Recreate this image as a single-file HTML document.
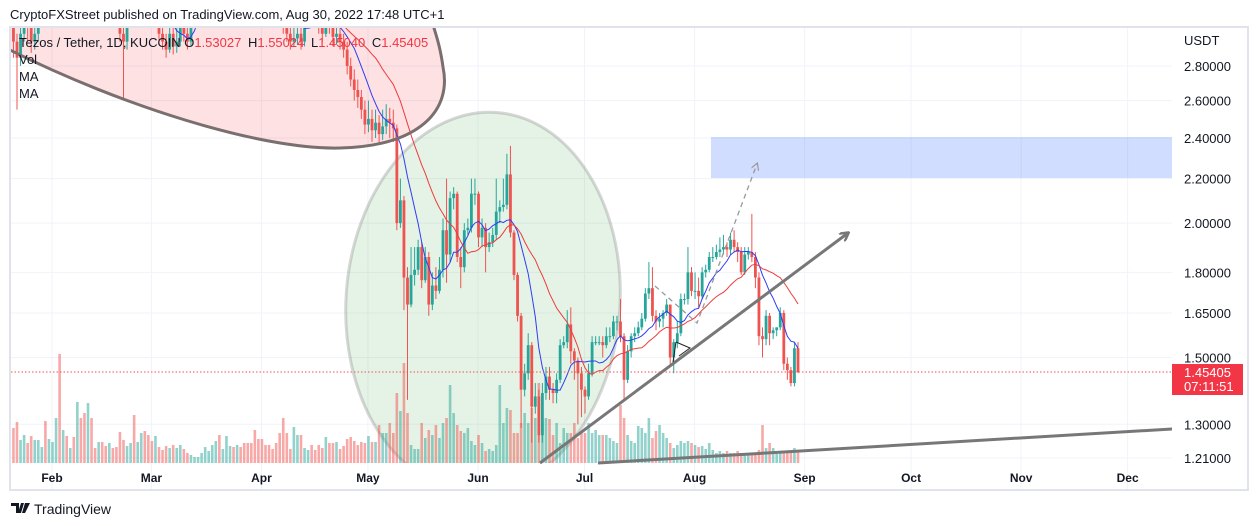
<!DOCTYPE html>
<html><head><meta charset="utf-8"><style>
html,body{margin:0;padding:0;background:#fff;width:1258px;height:526px;overflow:hidden}
svg text{font-family:"Liberation Sans",sans-serif}
</style></head><body>
<svg id="chart" width="1258" height="526" xmlns="http://www.w3.org/2000/svg">
<defs>
<clipPath id="plotClip"><rect x="11" y="28" width="1161" height="435"/></clipPath>
<clipPath id="fullClip"><rect x="11" y="28" width="1161" height="461"/></clipPath>
<marker id="arrowGray" markerWidth="10" markerHeight="10" refX="8" refY="5" orient="auto" markerUnits="userSpaceOnUse"><path d="M0,0 L9,5 L0,10" fill="none" stroke="#777" stroke-width="2.5"/></marker>
<marker id="arrowDash" markerWidth="8" markerHeight="8" refX="6" refY="4" orient="auto" markerUnits="userSpaceOnUse"><path d="M0,0 L7,4 L0,8" fill="none" stroke="#999" stroke-width="1.2"/></marker>
</defs>
<text x="10" y="19" font-size="13" fill="#131722">CryptoFXStreet published on TradingView.com, Aug 30, 2022 17:48 UTC+1</text>
<rect x="10" y="27" width="1238" height="463" fill="none" stroke="#e0e3eb" stroke-width="2"/>
<g id="grid"></g>
<g clip-path="url(#plotClip)">
  <path d="M 10,50 C 120,105 260,150 340,148 C 420,146 452,110 443,67 C 440,45 436,35 430,15 L 10,15 Z" fill="rgba(242,54,69,0.15)"/>
  <ellipse cx="483" cy="302" rx="137" ry="190" transform="rotate(4 483 302)" fill="rgba(76,175,80,0.15)" stroke="rgba(140,140,140,0.35)" stroke-width="3"/>
  <rect x="711" y="137" width="461" height="41" fill="rgba(41,98,255,0.22)"/>
</g>
<g id="vols" clip-path="url(#plotClip)"></g>
<g id="candles" clip-path="url(#plotClip)"></g>
<g id="mas" clip-path="url(#plotClip)"></g>
<g clip-path="url(#fullClip)">
  <path d="M 10,50 C 120,105 260,150 340,148 C 420,146 452,110 443,67 C 440,45 436,35 430,15" fill="none" stroke="#7a6e6e" stroke-width="3"/>
  <line x1="540" y1="463" x2="848" y2="233" stroke="#777" stroke-width="3" marker-end="url(#arrowGray)"/>
  <line x1="598" y1="463" x2="1172" y2="429" stroke="#777" stroke-width="3"/>
  <polyline points="655,286 697,323 757,164" fill="none" stroke="#999" stroke-width="1.3" stroke-dasharray="5,4" marker-end="url(#arrowDash)"/>
  <path d="M676,342 L690,348 L679,356 M676,342 L673,362" fill="none" stroke="#222" stroke-width="1"/>
</g>
<line id="priceLine" x1="11" x2="1172" stroke="#ef5350" stroke-width="1" stroke-dasharray="1.5,2"/>
<g id="axis"></g>
<text x="1184" y="45" font-size="13" fill="#131722">USDT</text>
<g id="xaxis"></g>
<g font-size="13">
  <text x="19" y="47" fill="#131722">Tezos / Tether, 1D, KUCOIN <tspan>O</tspan><tspan fill="#f23645">1.53027</tspan> <tspan dx="3">H</tspan><tspan fill="#f23645">1.55024</tspan> <tspan dx="3">L</tspan><tspan fill="#f23645">1.45040</tspan> <tspan dx="3">C</tspan><tspan fill="#f23645">1.45405</tspan></text>
  <text x="19" y="64" fill="#131722">Vol</text>
  <text x="19" y="81" fill="#131722">MA</text>
  <text x="19" y="98" fill="#131722">MA</text>
</g>
<g id="priceTag"></g>
<g>
  <path d="M11,503 h8 v10 h-3 v-7 h-5z M21,503 h3 l-3,10 h-3z M25,503 h5 l-5,10 h-3z" fill="#131722"/>
  <text x="34" y="514" font-size="14" fill="#131722">TradingView</text>
</g>
</svg>
<script>
const closes=[2.95,2.85,3.0,3.1,3.05,2.95,3.0,3.2,3.3,3.25,
3.4,3.6,3.8,3.7,4.0,3.9,4.2,4.1,4.3,4.0,
3.9,4.1,3.8,3.6,3.7,3.5,3.3,3.4,3.2,3.1,
3.0,2.95,3.1,3.3,3.2,3.4,3.5,3.3,3.2,3.1,
3.15,3.0,2.95,2.9,3.0,2.92,2.95,3.05,3.0,2.95,
3.1,3.3,3.5,3.6,3.8,3.9,4.1,4.3,4.2,4.4,
4.5,4.6,4.4,4.5,4.3,4.2,4.1,4.0,3.9,3.7,
3.6,3.5,3.4,3.3,3.2,3.1,3.05,3.0,2.95,2.97,
3.0,2.95,3.1,3.2,3.15,3.1,3.05,3.0,3.1,3.05,
2.98,3.0,2.95,2.9,2.8,2.72,2.66,2.62,2.55,2.47,
2.50,2.44,2.48,2.42,2.46,2.50,2.48,2.45,2.00,2.10,
1.78,1.68,1.79,1.81,1.90,1.77,1.86,1.68,1.75,1.73,
1.81,1.97,1.87,2.11,2.13,1.86,1.82,1.97,1.98,2.13,
2.13,1.94,1.98,1.90,1.92,1.95,2.05,2.07,2.08,2.22,
1.96,1.79,1.64,1.40,1.45,1.54,1.35,1.38,1.27,1.39,
1.44,1.40,1.39,1.43,1.54,1.55,1.61,1.52,1.49,1.45,
1.40,1.38,1.45,1.55,1.55,1.55,1.54,1.57,1.57,1.62,
1.62,1.57,1.43,1.52,1.57,1.58,1.60,1.63,1.72,1.74,
1.64,1.62,1.63,1.65,1.68,1.50,1.55,1.58,1.70,1.70,
1.80,1.73,1.73,1.71,1.80,1.81,1.86,1.86,1.88,1.89,
1.90,1.89,1.93,1.90,1.88,1.80,1.87,1.88,1.86,1.78,
1.57,1.56,1.64,1.58,1.59,1.60,1.65,1.48,1.46,1.42,
1.53,1.454];
const highs=[3.2,3.0,3.1,3.2,3.15,3.1,3.1,3.3,3.4,3.35,
3.5,3.7,3.9,3.85,4.1,4.05,4.3,4.25,4.4,4.3,
4.05,4.2,4.1,3.85,3.8,3.75,3.55,3.5,3.45,3.25,
3.15,3.1,3.2,3.4,3.35,3.5,3.6,3.55,3.35,3.25,
3.25,3.2,3.05,3.0,3.1,3.05,3.05,3.15,3.1,3.05,
3.2,3.4,3.6,3.7,3.9,4.0,4.2,4.4,4.4,4.5,
4.6,4.7,4.65,4.6,4.55,4.35,4.25,4.15,4.05,3.95,
3.75,3.65,3.55,3.45,3.35,3.25,3.15,3.1,3.05,3.05,
3.1,3.05,3.2,3.3,3.25,3.2,3.15,3.1,3.2,3.15,
3.1,3.1,3.05,3.0,2.95,2.85,2.78,2.72,2.66,2.6,
2.6,2.55,2.55,2.52,2.55,2.58,2.56,2.55,2.47,2.2,
2.12,1.82,1.9,1.9,1.93,1.92,1.9,1.88,1.8,1.82,
1.86,2.02,2.2,2.14,2.16,2.14,1.9,2.0,2.02,2.2,
2.2,2.14,2.02,2.0,1.96,1.98,2.2,2.1,2.2,2.32,
2.36,1.97,1.8,1.65,1.48,1.58,1.55,1.42,1.4,1.42,
1.47,1.47,1.42,1.45,1.56,1.57,1.66,1.67,1.53,1.5,
1.47,1.41,1.48,1.57,1.57,1.57,1.57,1.6,1.6,1.64,
1.64,1.7,1.58,1.54,1.58,1.6,1.62,1.65,1.74,1.84,
1.82,1.66,1.65,1.66,1.7,1.68,1.56,1.62,1.72,1.72,
1.9,1.82,1.8,1.78,1.82,1.83,1.88,1.9,1.91,1.94,
1.95,1.92,1.96,1.97,1.92,1.9,1.9,1.9,2.04,1.88,
1.8,1.6,1.66,1.65,1.6,1.6,1.67,1.66,1.5,1.47,
1.55,1.55];
const lows=[2.85,2.55,2.8,2.95,2.95,2.88,2.9,2.95,3.15,3.15,
3.2,3.35,3.55,3.6,3.65,3.8,3.85,4.0,4.05,3.95,
3.8,3.85,3.75,3.55,3.55,3.45,3.25,3.25,3.15,3.05,
2.95,2.6,2.9,3.05,3.15,3.15,3.35,3.25,3.15,3.05,
3.05,2.95,2.9,2.85,2.88,2.87,2.88,2.92,2.95,2.9,
2.92,3.05,3.25,3.45,3.55,3.75,3.85,4.05,4.1,4.15,
4.35,4.45,4.35,4.35,4.25,4.1,4.0,3.9,3.8,3.65,
3.55,3.45,3.35,3.25,3.15,3.05,3.0,2.95,2.9,2.92,
2.93,2.9,2.92,3.05,3.1,3.05,3.0,2.95,2.98,3.0,
2.92,2.93,2.9,2.85,2.75,2.68,2.6,2.56,2.5,2.42,
2.43,2.38,2.4,2.37,2.39,2.42,2.4,2.38,1.97,1.98,
1.66,1.37,1.67,1.75,1.79,1.74,1.76,1.64,1.66,1.7,
1.72,1.78,1.76,1.84,2.06,1.84,1.74,1.8,1.95,1.96,
2.08,1.9,1.9,1.8,1.88,1.9,1.93,2.0,2.05,2.06,
1.94,1.77,1.62,1.29,1.38,1.43,1.25,1.33,1.25,1.25,
1.37,1.37,1.36,1.36,1.42,1.53,1.53,1.48,1.43,1.3,
1.32,1.33,1.37,1.44,1.54,1.54,1.5,1.53,1.55,1.56,
1.59,1.55,1.37,1.42,1.5,1.55,1.57,1.59,1.62,1.7,
1.62,1.59,1.6,1.6,1.64,1.47,1.45,1.53,1.57,1.68,
1.68,1.71,1.7,1.67,1.7,1.78,1.8,1.84,1.85,1.86,
1.87,1.86,1.87,1.88,1.84,1.79,1.79,1.85,1.84,1.74,
1.54,1.5,1.54,1.54,1.56,1.57,1.59,1.46,1.43,1.41,
1.41,1.45];
const volumes=[35,41,23,28,20,27,23,23,16,42,24,21,45,109,33,27,15,26,61,45,50,60,45,15,21,21,17,20,15,16,31,
23,17,20,48,21,30,32,28,22,27,16,13,17,15,18,15,18,14,10,8,6,6,10,16,12,18,22,28,14,27,
17,16,18,16,20,20,20,33,24,24,18,18,14,20,30,45,30,14,36,28,28,15,13,18,13,18,15,26,20,20,21,14,17,
24,26,22,18,21,20,27,21,21,38,30,30,40,30,
70,52,100,50,18,14,14,40,25,33,28,38,25,40,45,78,50,38,32,30,35,22,18,28,20,12,14,12,18,78,40,55,53,30,30,40,50,40,55,45,80,40,45,44,28,40,20,35,30,30,40,25,30,30,40,30,33,28,28,28,25,22,20,58,45,28,22,20,
37,35,30,45,25,32,38,30,25,20,15,18,22,20,22,20,18,16,17,14,20,13,10,12,10,12,10,10,12,10,8,10,10,10,13,38,15,20,15,10,10,10,12,10,15,12];
const firstOpen=3.1;
const lastPrice=1.45405;
const priceTicks=[2.8,2.6,2.4,2.2,2.0,1.8,1.65,1.5,1.3,1.21];
const monthLabels=["Feb","Mar","Apr","May","Jun","Jul","Aug","Sep","Oct","Nov","Dec"];
const monthDays=[31,59,90,120,151,181,212,243,273,304,334];
const startDay=20;
const maFast=9, maSlow=21;

const NS="http://www.w3.org/2000/svg";
function yScale(v){return 66+Math.log(2.8/v)*467;}
function xDay(d){return 52+(d-31)*3.55;}
function xIdx(i){return xDay(startDay+i)+0.5;}
function volY(v){return 463-v;}
function mk(tag,attrs,parent){const e=document.createElementNS(NS,tag);for(const k in attrs)e.setAttribute(k,attrs[k]);parent.appendChild(e);return e;}

const grid=document.getElementById('grid');
priceTicks.forEach(p=>{
  const l=mk('line',{x1:11,x2:1172,y1:yScale(p),y2:yScale(p),stroke:'#f0f3fa','stroke-width':1},grid);
  
  
});
monthDays.forEach(d=>{
  const l=mk('line',{x1:xDay(d),x2:xDay(d),y1:28,y2:489,stroke:'#f0f3fa','stroke-width':1},grid);
  
  
});

const axis=document.getElementById('axis');
priceTicks.forEach(p=>{
  const t=mk('text',{x:1184,y:yScale(p)+5,'font-size':13,fill:'#131722'},axis);
  t.textContent=p.toFixed(5);
  
  
});
const xaxis=document.getElementById('xaxis');
monthLabels.forEach((m,k)=>{
  const t=mk('text',{x:xDay(monthDays[k]),y:482,'font-size':12,'font-weight':'bold',fill:'#131722','text-anchor':'middle'},xaxis);
  t.textContent=m;
  
  
});

const vols=document.getElementById('vols');
const cg=document.getElementById('candles');
closes.forEach((c,i)=>{
  const o=i===0?firstOpen:closes[i-1];
  const up=c>=o;
  const col=up?'#26a69a':'#ef5350';
  const x=xIdx(i);
  const vb=mk('rect',{x:x-1.3,y:volY(volumes[i]),width:2.6,height:volumes[i],fill:up?'rgba(38,166,154,0.5)':'rgba(239,83,80,0.5)'},vols);
  
  
  const w=mk('line',{x1:x,x2:x,y1:yScale(highs[i]),y2:yScale(lows[i]),stroke:col,'stroke-width':1},cg);
  
  
  const yt=yScale(Math.max(o,c)), yb=yScale(Math.min(o,c));
  const b=mk('rect',{x:x-1.4,y:yt,width:2.8,height:Math.max(1,yb-yt),fill:col},cg);
  
  
});

const mas=document.getElementById('mas');
function maPath(n){
  let pts=[];
  for(let i=n-1;i<closes.length;i++){
    let s=0;for(let k=i-n+1;k<=i;k++)s+=closes[k];
    pts.push(xIdx(i).toFixed(1)+','+yScale(s/n).toFixed(1));
  }
  return 'M'+pts.join(' L');
}
const m1=mk('path',{d:maPath(maFast),fill:'none',stroke:'#2f3cf5','stroke-width':1},mas);


const m2=mk('path',{d:maPath(maSlow),fill:'none',stroke:'#ef3b3b','stroke-width':1},mas);



const pl=document.getElementById('priceLine');
pl.setAttribute('y1',yScale(lastPrice));pl.setAttribute('y2',yScale(lastPrice));
const tag=document.getElementById('priceTag');
const ty=yScale(lastPrice);
mk('rect',{x:1172,y:ty-8,width:71,height:31,fill:'#f23645'},tag);
const t1=mk('text',{x:1184,y:ty+5,'font-size':13,fill:'#fff'},tag);
t1.textContent=lastPrice.toFixed(5);


const t2=mk('text',{x:1184,y:ty+19,'font-size':13,fill:'#fff'},tag);
t2.textContent='07:11:51';


</script>
</body></html>
